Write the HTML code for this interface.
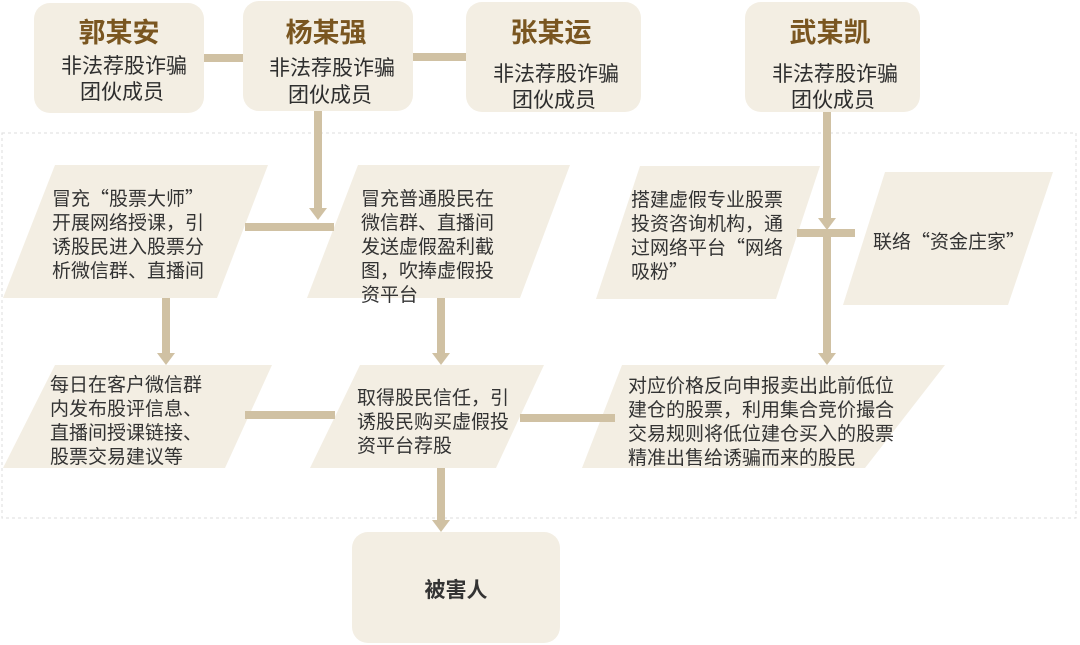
<!DOCTYPE html>
<html><head><meta charset="utf-8"><style>
body{margin:0;background:#fff;}
svg{display:block;}
text{font-family:"Noto Sans CJK SC","Liberation Sans",sans-serif;}
.t{font-size:19px;fill:#333;}
.s{font-size:21px;fill:#2e2e2e;}
.n{font-size:27px;font-weight:bold;fill:#7a5620;}
</style></head><body>
<svg width="1080" height="645" viewBox="0 0 1080 645">
<rect x="2" y="133" width="1074" height="385" fill="none" stroke="#ddd" stroke-dasharray="3,3"/>
<g fill="#f3eee3">
<rect x="34" y="3" width="170" height="110" rx="16"/>
<rect x="243" y="1" width="170" height="110" rx="16"/>
<rect x="466" y="2" width="175" height="110" rx="16"/>
<rect x="745" y="2" width="175" height="110" rx="16"/>
<rect x="352" y="532" width="208" height="111" rx="16"/>
<polygon points="55,165 268,165 217,298 3,298"/>
<polygon points="358,165 570,165 520,298 307,298"/>
<polygon points="640,166 820,166 776,299 596,299"/>
<polygon points="885,172 1053,172 1008,305 843,305"/>
<polygon points="55,365 272,365 225,468 3,468"/>
<polygon points="360,365 544,365 496,468 310,468"/>
<polygon points="622,365 945,365 865,468 582,468"/>
</g>
<g stroke="#d0c1a3" stroke-width="8" fill="none">
<line x1="204" y1="58" x2="243" y2="58"/>
<line x1="413" y1="57" x2="466" y2="57"/>
<line x1="318" y1="111" x2="318" y2="210"/>
<line x1="245" y1="227" x2="334" y2="227"/>
<line x1="827" y1="112" x2="827" y2="220"/>
<line x1="797" y1="233" x2="855" y2="233"/>
<line x1="827" y1="233" x2="827" y2="355"/>
<line x1="166" y1="298" x2="166" y2="355"/>
<line x1="441" y1="298" x2="441" y2="355"/>
<line x1="245" y1="415" x2="335" y2="415"/>
<line x1="520" y1="418" x2="615" y2="418"/>
<line x1="441" y1="468" x2="441" y2="522"/>
</g>
<g fill="#d0c1a3">
<polygon points="309,208 327,208 318,220"/>
<polygon points="818,218 836,218 827,230"/>
<polygon points="818,353 836,353 827,365"/>
<polygon points="157,353 175,353 166,365"/>
<polygon points="432,353 450,353 441,365"/>
<polygon points="432,520 450,520 441,532"/>
</g>
<text class="n" x="119" y="42" text-anchor="middle">郭某安</text>
<text class="s" x="124" y="73" text-anchor="middle">非法荐股诈骗</text>
<text class="s" x="122" y="99" text-anchor="middle">团伙成员</text>
<text class="n" x="326" y="42" text-anchor="middle">杨某强</text>
<text class="s" x="332" y="75" text-anchor="middle">非法荐股诈骗</text>
<text class="s" x="330" y="102" text-anchor="middle">团伙成员</text>
<text class="n" x="551" y="42" text-anchor="middle">张某运</text>
<text class="s" x="556" y="81" text-anchor="middle">非法荐股诈骗</text>
<text class="s" x="554" y="107" text-anchor="middle">团伙成员</text>
<text class="n" x="830" y="42" text-anchor="middle">武某凯</text>
<text class="s" x="835" y="81" text-anchor="middle">非法荐股诈骗</text>
<text class="s" x="833" y="107" text-anchor="middle">团伙成员</text>
<g class="t">
<text x="52" y="205">冒充“股票大师”</text>
<text x="52" y="229">开展网络授课，引</text>
<text x="52" y="253">诱股民进入股票分</text>
<text x="52" y="277">析微信群、直播间</text>
<text x="361" y="205">冒充普通股民在</text>
<text x="361" y="229">微信群、直播间</text>
<text x="361" y="253">发送虚假盈利截</text>
<text x="361" y="277">图，吹捧虚假投</text>
<text x="361" y="301">资平台</text>
<text x="631" y="206">搭建虚假专业股票</text>
<text x="631" y="230">投资咨询机构，通</text>
<text x="631" y="254">过网络平台“网络</text>
<text x="631" y="278">吸粉”</text>
<text x="873" y="248">联络“资金庄家”</text>
<text x="50" y="391">每日在客户微信群</text>
<text x="50" y="415">内发布股评信息、</text>
<text x="50" y="439">直播间授课链接、</text>
<text x="50" y="463">股票交易建议等</text>
<text x="357" y="404">取得股民信任，引</text>
<text x="357" y="428">诱股民购买虚假投</text>
<text x="357" y="452">资平台荐股</text>
<text x="628" y="392">对应价格反向申报卖出此前低位</text>
<text x="628" y="416">建仓的股票，利用集合竞价撮合</text>
<text x="628" y="440">交易规则将低位建仓买入的股票</text>
<text x="628" y="464">精准出售给诱骗而来的股民</text>
</g>
<text x="456" y="597" text-anchor="middle" style="font-size:21px;font-weight:bold;fill:#333">被害人</text>
</svg>
</body></html>
